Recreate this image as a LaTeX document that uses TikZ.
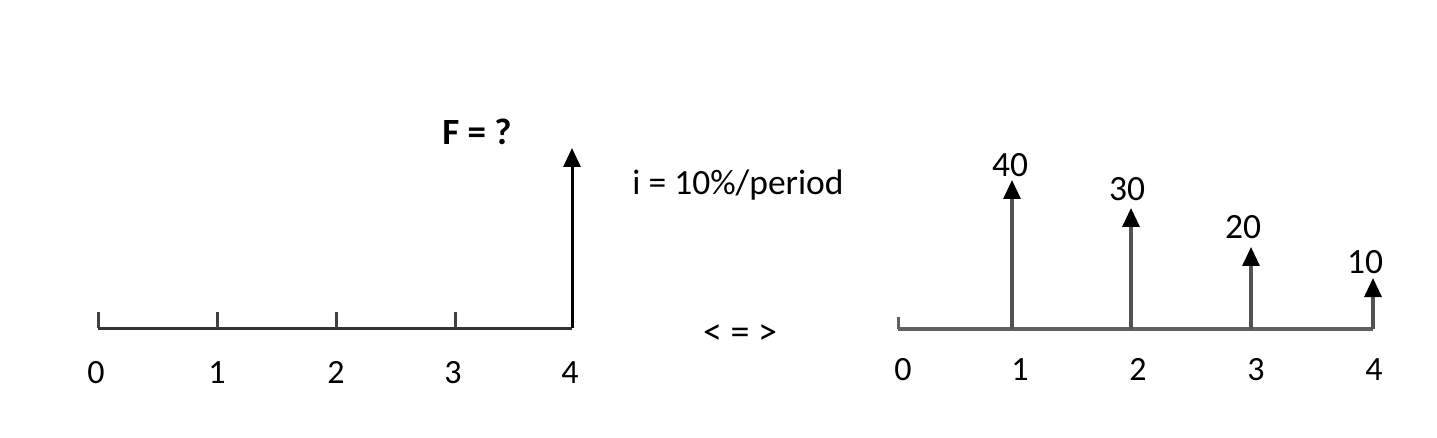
\documentclass[tikz,border=0pt]{standalone}
\usepackage{fontspec}
\setmainfont{Carlito}
\usetikzlibrary{arrows.meta}
\begin{document}
\begin{tikzpicture}[x=1pt,y=-1pt,
  axisL/.style={line width=3pt,draw=black!80},
  axisR/.style={line width=3.6pt,draw=black!62},
  tickmark/.style={line width=3pt,draw=black!75},
  flowL/.style={line width=3pt,draw=black,-{Triangle[length=19pt,width=17pt]}},
  flowR/.style={line width=3.2pt,draw=black!68,-{Triangle[length=19pt,width=17pt,color=black]}},
  lbl/.style={font=\fontsize{35.5}{42}\selectfont,inner sep=0pt,anchor=base},
  axlbl/.style={font=\fontsize{34}{40}\selectfont,inner sep=0pt,anchor=base}]
\useasboundingbox[fill=white] (0,0) rectangle (1437,438);
% left diagram
\coordinate (L0) at (98,328);
\coordinate (L1) at (217,328);
\coordinate (L2) at (336,328);
\coordinate (L3) at (455,328);
\coordinate (L4) at (572,328);
\coordinate (LF) at (572,148);
\draw[axisL] (L0) -- (L4);
\foreach \n in {0,1,2,3}{\draw[tickmark] (L\n) -- ++(0,-16);}
\draw[flowL] (L4) -- (LF);
\node[lbl,font=\fontsize{37}{44}\selectfont\bfseries] (F) at (477,145) {F = ?};
\node[axlbl] (l0) at (96,383) {0};
\node[axlbl] (l1) at (217,383) {1};
\node[axlbl] (l2) at (336,383) {2};
\node[axlbl] (l3) at (453,383) {3};
\node[axlbl] (l4) at (570,383) {4};
% middle texts
\node[lbl] (rate) at (738,195) {i = 10\%/period};
\node[lbl,font=\fontsize{38}{44}\selectfont,anchor=center] (eq) at (740,335) {< = >};
% right diagram
\coordinate (R0) at (898,329);
\coordinate (R1) at (1012,329);
\coordinate (R2) at (1131,329);
\coordinate (R3) at (1251,329);
\coordinate (R4) at (1373,329);
\coordinate (T1) at (1012,180);
\coordinate (T2) at (1131,208);
\coordinate (T3) at (1251,247);
\coordinate (T4) at (1373,278);
\draw[axisR] (R0) -- (R4);
\draw[axisR,line width=3pt] (R0) -- ++(0,-12);
\foreach \n in {1,2,3,4}{\draw[flowR] (R\n) -- (T\n);}
\node[lbl] (v1) at (1010,177) {40};
\node[lbl] (v2) at (1127,201) {30};
\node[lbl] (v3) at (1243,239) {20};
\node[lbl] (v4) at (1365,273) {10};
\node[axlbl] (r0) at (903,380) {0};
\node[axlbl] (r1) at (1020,380) {1};
\node[axlbl] (r2) at (1138,380) {2};
\node[axlbl] (r3) at (1256,380) {3};
\node[axlbl] (r4) at (1374,380) {4};
\end{tikzpicture}
\end{document}
